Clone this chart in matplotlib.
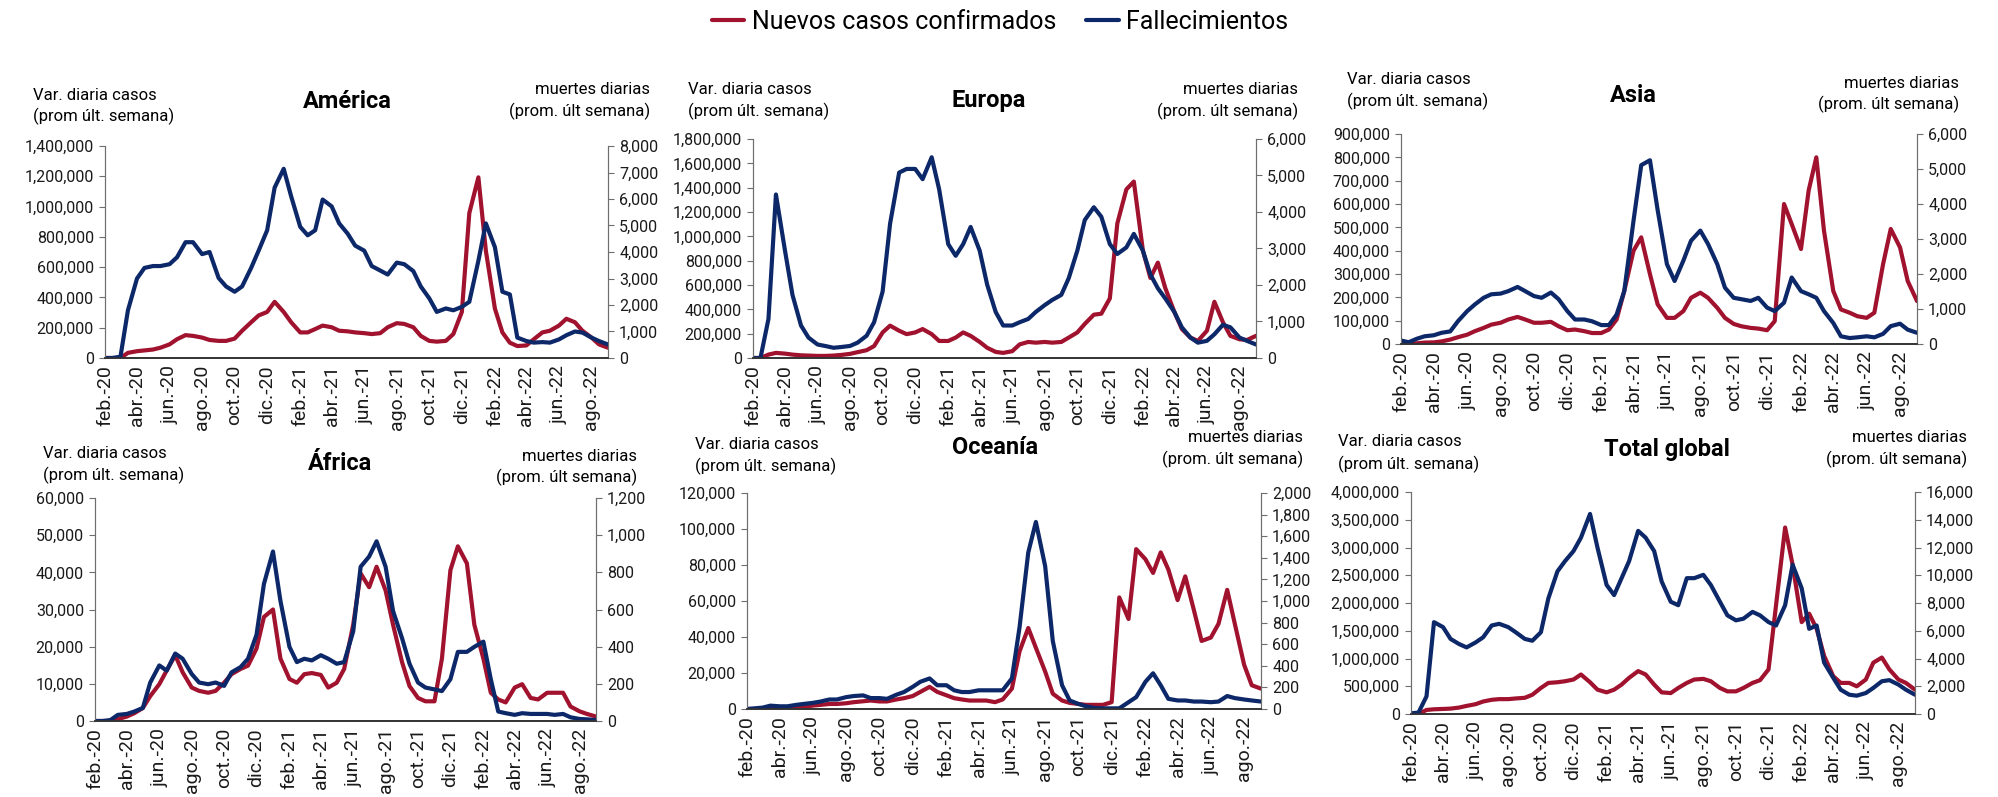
import numpy as np
import pandas as pd
import matplotlib
matplotlib.use("Agg")
import matplotlib.pyplot as plt
from matplotlib.ticker import FuncFormatter, MultipleLocator

plt.rcParams['font.family'] = ['Roboto', 'DejaVu Sans']

# fechas: 1 y 15 de cada mes, feb-2020 a sep-2022
fechas = pd.date_range("2020-02-01", "2022-09-01", freq="SMS")

# America
am_casos = [0, 0, 0, 34000, 45000, 50000, 56000, 68000, 90000, 124000,
            151000, 146000, 135000, 119000, 113000, 113000, 128000, 180000, 236000, 281000,
            304000, 371000, 304000, 236000, 169000, 169000, 191000, 214000, 203000, 180000,
            176000, 169000, 164000, 158000, 164000, 203000, 230000, 225000, 203000, 146000,
            113000, 108000, 113000, 158000, 304000, 957000, 1193000, 709000, 326000, 169000,
            101000, 79000, 83000, 124000, 169000, 180000, 214000, 259000, 236000, 180000,
            135000, 90000, 68000]
am_muertes = [0, 0, 50, 1800, 3000, 3400, 3470, 3470, 3540, 3800,
              4370, 4370, 3920, 4000, 3020, 2700, 2500, 2700, 3400, 4050,
              4820, 6430, 7140, 6100, 4950, 4630, 4820, 5980, 5720, 5080,
              4690, 4240, 4050, 3470, 3300, 3150, 3600, 3540, 3280, 2700,
              2250, 1740, 1870, 1800, 1930, 2120, 3670, 5080, 4180, 2500,
              2400, 770, 640, 580, 600, 580, 700, 860, 1000, 960,
              770, 640, 510]

# Europa
eu_casos = [0, 0, 28000, 42000, 36000, 28000, 22000, 20000, 17000, 17000,
            20000, 25000, 34000, 48000, 64000, 98000, 210000, 266000, 224000, 196000,
            210000, 238000, 196000, 140000, 140000, 168000, 210000, 182000, 132000, 84000,
            50000, 42000, 56000, 112000, 132000, 126000, 132000, 126000, 132000, 168000,
            210000, 280000, 356000, 364000, 490000, 1106000, 1386000, 1450000, 882000, 658000,
            784000, 574000, 378000, 238000, 168000, 140000, 224000, 462000, 294000, 182000,
            154000, 148000, 182000]
eu_muertes = [0, 0, 1070, 4480, 2940, 1730, 890, 560, 370, 330,
              280, 300, 330, 420, 610, 980, 1820, 3680, 5080, 5180,
              5180, 4900, 5500, 4620, 3120, 2800, 3120, 3590, 2940, 2010,
              1260, 890, 890, 980, 1070, 1260, 1450, 1590, 1730, 2190,
              2940, 3780, 4130, 3870, 3120, 2850, 3030, 3400, 2940, 2290,
              1910, 1630, 1260, 840, 560, 420, 470, 650, 910, 840,
              560, 470, 370]

# Asia
as_casos = [0, 0, 3000, 6000, 7000, 11000, 19000, 29000, 40000, 55000,
            69000, 83000, 91000, 105000, 116000, 105000, 91000, 91000, 95000, 76000,
            59000, 62000, 55000, 47000, 47000, 62000, 105000, 227000, 400000, 457000,
            299000, 170000, 112000, 112000, 141000, 198000, 220000, 198000, 155000, 112000,
            86000, 76000, 69000, 66000, 59000, 98000, 600000, 514000, 407000, 658000,
            800000, 486000, 227000, 148000, 134000, 119000, 112000, 134000, 342000, 493000,
            414000, 270000, 184000]
as_muertes = [100, 50, 150, 220, 250, 320, 360, 650, 940, 1130,
              1320, 1420, 1440, 1510, 1630, 1510, 1370, 1320, 1470, 1280,
              940, 700, 700, 650, 540, 540, 840, 1510, 3530, 5110,
              5250, 3830, 2280, 1800, 2380, 2950, 3240, 2860, 2280, 1610,
              1320, 1280, 1230, 1320, 1040, 940, 1180, 1900, 1510, 1420,
              1320, 940, 600, 220, 170, 190, 220, 190, 290, 510,
              580, 410, 320]

# Africa
af_casos = [0, 0, 0, 500, 1200, 2100, 3500, 6700, 9900, 13600,
            17700, 13100, 9000, 8100, 7600, 8100, 10300, 12600, 14000, 14900,
            19500, 28000, 30000, 16800, 11300, 10300, 12600, 12900, 12400, 9000,
            10300, 14000, 25900, 39700, 36000, 41500, 35100, 25900, 15800, 9400,
            6200, 5300, 5300, 16800, 40600, 47000, 42400, 25900, 16800, 7600,
            5800, 5000, 9000, 9900, 6200, 5800, 7600, 7600, 7600, 3900,
            2600, 1900, 1200]
af_muertes = [0, 0, 5, 33, 38, 51, 70, 207, 299, 271,
              363, 335, 253, 207, 198, 207, 189, 262, 290, 335,
              464, 738, 912, 647, 399, 317, 335, 326, 354, 335,
              308, 317, 482, 830, 885, 967, 830, 592, 445, 308,
              207, 180, 170, 161, 225, 372, 372, 399, 427, 225,
              51, 42, 33, 42, 38, 38, 38, 33, 38, 20,
              11, 9, 5]

# Oceania
oc_casos = [0, 0, 0, 400, 200, 400, 800, 1300, 1900, 2300,
            2800, 2800, 3200, 3800, 4300, 4700, 4200, 4200, 5300, 6000,
            7200, 9500, 12300, 9500, 7600, 6000, 5300, 4700, 4700, 4700,
            3800, 5300, 11300, 32000, 45000, 34000, 20800, 8500, 4700, 3400,
            2800, 2300, 2300, 2300, 3800, 62000, 50000, 88800, 83200, 75600,
            87000, 77500, 60500, 73700, 54800, 37800, 39700, 47300, 66200, 47300,
            24600, 13200, 11300]
oc_muertes = [0, 6, 13, 31, 25, 25, 38, 47, 57, 69,
              88, 88, 110, 120, 126, 101, 101, 94, 132, 157,
              205, 252, 283, 220, 220, 173, 157, 157, 173, 173,
              173, 173, 283, 756, 1449, 1732, 1323, 630, 220, 79,
              47, 25, 9, 6, 6, 6, 63, 110, 252, 331,
              220, 94, 79, 79, 69, 69, 63, 69, 120, 101,
              88, 79, 69]

# Total global
gl_casos = [0, 0, 73000, 85000, 91000, 97000, 116000, 146000, 177000, 225000,
            256000, 268000, 268000, 280000, 292000, 347000, 469000, 560000, 572000, 590000,
            621000, 712000, 572000, 438000, 390000, 438000, 530000, 651000, 773000, 712000,
            530000, 390000, 377000, 469000, 560000, 621000, 633000, 590000, 469000, 408000,
            408000, 469000, 560000, 609000, 804000, 1960000, 3360000, 2690000, 1656000, 1808000,
            1534000, 1047000, 682000, 560000, 560000, 499000, 621000, 925000, 1017000, 804000,
            621000, 560000, 438000]
gl_muertes = [50, 100, 1270, 6620, 6260, 5410, 5040, 4800, 5160, 5530,
              6380, 6500, 6260, 5890, 5410, 5280, 5890, 8330, 10280, 11010,
              11740, 12710, 14420, 11980, 9300, 8570, 9790, 11010, 13200, 12710,
              11740, 9550, 8090, 7840, 9790, 9790, 10030, 9300, 8090, 7110,
              6750, 6870, 7360, 7110, 6620, 6380, 7840, 10760, 9060, 6140,
              6380, 3700, 2610, 1750, 1390, 1320, 1510, 1880, 2360, 2440,
              2120, 1750, 1390]

etiquetas_x = ["feb.-20", "abr.-20", "jun.-20", "ago.-20", "oct.-20", "dic.-20",
               "feb.-21", "abr.-21", "jun.-21", "ago.-21", "oct.-21", "dic.-21",
               "feb.-22", "abr.-22", "jun.-22", "ago.-22"]
fechas_x = pd.date_range("2020-02-01", "2022-08-01", freq="2MS")

ROJO = "#A0122E"
AZUL = "#0D2869"
GRIS = "#6e6e6e"

W, H = 1999, 797
fig = plt.figure(figsize=(W / 100, H / 100), dpi=100)


def caja(x0, x1, y0, y1):
    return [x0 / W, 1 - y1 / H, (x1 - x0) / W, (y1 - y0) / H]


def texto(x, y, s, **kw):
    fig.text(x / W, 1 - y / H, s, va="center", **kw)


# (titulo, casos, muertes, caja px, max izq, paso izq, max der, paso der, textos)
paneles = [
    ("América", am_casos, am_muertes, (105, 608, 146, 358), 1400000, 200000, 8000, 1000,
     dict(l=(33, 96, 116), t=(347, 102), r=(650, 90, 111))),
    ("Europa", eu_casos, eu_muertes, (753, 1256, 139, 358), 1800000, 200000, 6000, 1000,
     dict(l=(688, 90, 111), t=(989, 101), r=(1298, 90, 111))),
    ("Asia", as_casos, as_muertes, (1401, 1917, 134, 344), 900000, 100000, 6000, 1000,
     dict(l=(1347, 80, 101), t=(1633, 96), r=(1959, 83, 104))),
    ("África", af_casos, af_muertes, (95, 596, 498, 721), 60000, 10000, 1200, 200,
     dict(l=(43, 454, 475), t=(340, 464), r=(637, 456, 477))),
    ("Oceanía", oc_casos, oc_muertes, (747, 1261, 493, 709), 120000, 20000, 2000, 200,
     dict(l=(695, 444, 466), t=(995, 448), r=(1303, 438, 459))),
    ("Total global", gl_casos, gl_muertes, (1411, 1915, 492, 714), 4000000, 500000, 16000, 2000,
     dict(l=(1338, 442, 464), t=(1667, 449), r=(1967, 437, 459))),
]

fmt = FuncFormatter(lambda v, p: f"{v:,.0f}")

for titulo, casos, muertes, bx, ymax1, paso1, ymax2, paso2, pos in paneles:
    ax = fig.add_axes(caja(*bx))
    ax2 = ax.twinx()
    l1, = ax.plot(fechas, casos, color=ROJO, lw=3.0, solid_capstyle="round",
                  label="Nuevos casos confirmados")
    l2, = ax2.plot(fechas, muertes, color=AZUL, lw=3.0, solid_capstyle="round",
                   label="Fallecimientos")
    ax.set_xlim(fechas[0], fechas[-1])
    ax.set_ylim(0, ymax1)
    ax2.set_ylim(0, ymax2)
    ax.yaxis.set_major_locator(MultipleLocator(paso1))
    ax2.yaxis.set_major_locator(MultipleLocator(paso2))
    ax.yaxis.set_major_formatter(fmt)
    ax2.yaxis.set_major_formatter(fmt)
    ax.set_xticks(fechas_x)
    ax.set_xticklabels(etiquetas_x, rotation=90)
    ax.tick_params(axis="x", length=0, pad=5, labelsize=14, labelcolor="#1a1a1a")
    ax.tick_params(axis="y", length=4, color=GRIS, labelsize=11.5, labelcolor="#1a1a1a", pad=4)
    ax2.tick_params(axis="y", length=4, color=GRIS, labelsize=11.5, labelcolor="#1a1a1a", pad=4)
    for a in (ax, ax2):
        a.spines["top"].set_visible(False)
        a.spines["left"].set_color(GRIS)
        a.spines["right"].set_color(GRIS)
        a.spines["bottom"].set_color("#333333")
        a.spines["bottom"].set_linewidth(1.2)
    texto(pos["l"][0], pos["l"][1], "Var. diaria casos", ha="left", fontsize=12)
    texto(pos["l"][0], pos["l"][2], "(prom últ. semana)", ha="left", fontsize=12)
    texto(pos["r"][0], pos["r"][1], "muertes diarias", ha="right", fontsize=12)
    texto(pos["r"][0], pos["r"][2], "(prom. últ semana)", ha="right", fontsize=12)
    texto(pos["t"][0], pos["t"][1], titulo, ha="center", fontsize=17, fontweight="bold")

fig.legend(handles=[l1, l2], loc="center", bbox_to_anchor=(1000 / W, 1 - 22 / H),
           ncol=2, frameon=False, fontsize=18, handlelength=1.3, handletextpad=0.3,
           columnspacing=1.2)

fig.savefig("out.png", dpi=100)
